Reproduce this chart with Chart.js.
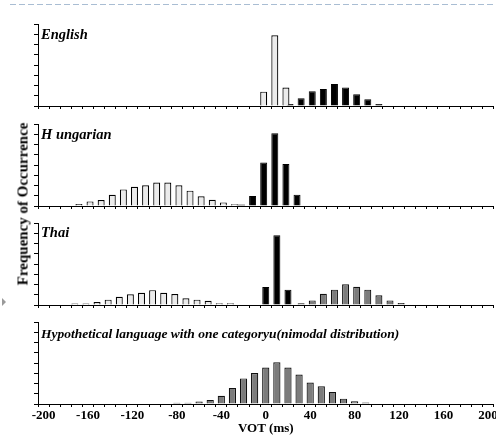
<!DOCTYPE html>
<html><head><meta charset="utf-8">
<script src="https://cdn.jsdelivr.net/npm/chart.js@4.4.1/dist/chart.umd.min.js"></script>
<style>
html,body{margin:0;padding:0;background:#fff;}
body{width:496px;height:442px;position:relative;overflow:hidden;}
canvas{position:absolute;left:0;}
#ytitle{position:absolute;left:23px;top:204px;transform:translate(-50%,-50%) rotate(-90deg);font:bold 15px "Liberation Serif","Times New Roman",serif;white-space:nowrap;color:#000;}
svg{position:absolute;left:0;top:0;}
</style></head><body>
<svg width="496" height="442"><line x1="10" y1="4.5" x2="496" y2="4.5" stroke="#a9bdd3" stroke-width="1" stroke-dasharray="6,3"/><polygon points="2,298 6,302 2,306" fill="#9a9a9a"/></svg>
<canvas id="c1" width="496" height="94" style="top:18px"></canvas>
<canvas id="c2" width="496" height="94" style="top:118px"></canvas>
<canvas id="c3" width="496" height="94" style="top:217px"></canvas>
<canvas id="c4" width="496" height="126" style="top:316px"></canvas>
<div id="ytitle">Frequency of Occurrence</div>
<script>
// VOT bins (ms)
const votBins = [-200,-190,-180,-170,-160,-150,-140,-130,-120,-110,-100,-90,-80,-70,-60,-50,-40,-30,-20,-10,0,10,20,30,40,50,60,70,80,90,100,110,120,130,140,150,160,170,180,190,200];
// tick labels shown on the VOT axis
const votTickLabels = [-200,-160,-120,-80,-40,0,40,80,120,160,200];
const panelNames = ['English','H ungarian','Thai','Hypothetical language with one categoryu(nimodal distribution)'];

// English
const englishLight = [null,null,null,null,null,null,null,null,null,null,null,null,null,null,null,null,null,null,null,null,1.4,6.9,1.8,null,null,null,null,null,null,null,null,null,null,null,null,null,null,null,null,null,null];
const englishDark  = [null,null,null,null,null,null,null,null,null,null,null,null,null,null,null,null,null,null,null,null,null,null,0.2,0.75,1.45,1.65,2.15,1.8,1.15,0.65,0.2,null,null,null,null,null,null,null,null,null,null];
// Hungarian
const hungarianDark  = [null,null,null,null,null,null,null,null,null,null,null,null,null,null,null,null,null,null,0.15,0.98,4.25,7.1,4.1,1.1,null,null,null,null,null,null,null,null,null,null,null,null,null,null,null,null,null];
const hungarianLight = [null,null,null,0.2,0.45,0.58,1.1,1.62,1.88,2.02,2.3,2.3,2.02,1.5,0.95,0.6,0.35,0.18,null,null,null,null,null,null,null,null,null,null,null,null,null,null,null,null,null,null,null,null,null,null,null];
// Thai
const thaiLight = [null,null,null,0.15,0.15,0.3,0.52,0.8,1.05,1.2,1.45,1.2,1.07,0.65,0.52,0.42,0.18,0.18,null,null,null,null,null,null,null,null,null,null,null,null,null,null,null,null,null,null,null,null,null,null,null];
const thaiDark  = [null,null,null,null,null,null,null,null,null,null,null,null,null,null,null,null,null,null,null,null,1.75,6.8,1.5,null,null,null,null,null,null,null,null,null,null,null,null,null,null,null,null,null,null];
const thaiGray  = [null,null,null,null,null,null,null,null,null,null,null,null,null,null,null,null,null,null,null,null,null,null,null,0.16,0.45,1.1,1.5,2.03,1.77,1.5,0.95,0.45,0.2,null,null,null,null,null,null,null,null];
// Hypothetical unimodal
const hypotheticalGray = [null,null,null,null,null,null,null,null,null,null,null,null,0.12,0.12,0.25,0.4,0.8,1.57,2.5,3.03,3.55,4.08,3.55,2.88,2.1,1.72,1.18,0.52,0.28,0.15,null,null,null,null,null,null,null,null,null,null,null];

const LIGHT = {backgroundColor:'#ebebeb', borderColor:'#000000', borderWidth:1.2};
const DARK  = {backgroundColor:'#000000', borderColor:'#000000', borderWidth:1};
const GRAY  = {backgroundColor:'#7c7c7c', borderColor:'#111111', borderWidth:1.2};

const panelLabel = {
  id:'panelLabel',
  afterDraw(chart, args, o){
    const {ctx, chartArea} = chart;
    ctx.save();
    ctx.font = 'italic bold ' + o.size + 'px "Liberation Serif", "Times New Roman", serif';
    ctx.fillStyle = '#000';
    ctx.textBaseline = 'alphabetic';
    ctx.textAlign = 'left';
    ctx.fillText(o.text, chartArea.left + 3, chartArea.top + o.dy);
    ctx.restore();
  }
};

function makePanel(id, name, sets, fit, labelOpts, bottom){
  const datasets = sets.map(s => Object.assign({data: s.data, categoryPercentage: fit.cat, barPercentage: fit.bar}, s.style));
  return new Chart(document.getElementById(id), {
    type:'bar',
    data:{labels: votBins, datasets},
    plugins:[panelLabel],
    options:{
      responsive:false, maintainAspectRatio:false, animation:false, events:[],
      layout:{padding:{top:6,left:0,right:2.5,bottom:0}},
      plugins:{legend:{display:false}, tooltip:{enabled:false}, panelLabel:Object.assign({text:name}, labelOpts)},
      scales:{
        x:{
          type:'category', offset:true,
          grid:{offset:true, drawOnChartArea:false, drawTicks:true, tickLength:3, color:'#000', lineWidth:1},
          border:{display:true, color:'#000', width:1},
          ticks:{display:bottom, autoSkip:false, maxRotation:0, minRotation:0, padding:1, color:'#000',
            font:{family:'"Liberation Serif", "Times New Roman", serif', size:13, weight:'bold'},
            callback:(v,i)=> votTickLabels.includes(votBins[i]) ? String(votBins[i]) : ''},
          title:{display:bottom, text:'VOT (ms)', color:'#000', padding:{top:0,bottom:6},
            font:{family:'"Liberation Serif", "Times New Roman", serif', size:13, weight:'bold'}},
          afterFit:(s)=>{ s.height = bottom ? 38 : 6; s.paddingLeft = 0; s.paddingRight = 0; }
        },
        y:{
          min:0, max:8,
          ticks:{display:false, stepSize:1},
          grid:{drawOnChartArea:false, drawTicks:true, tickLength:4, color:'#000', lineWidth:1},
          border:{display:true, color:'#000', width:1},
          afterFit:(s)=>{ s.width = 38; }
        }
      }
    }
  });
}

const fit2 = {cat:0.74, bar:1.7};
const fit3 = {cat:0.554, bar:3.41};
const fit1 = {cat:1, bar:0.65};

makePanel('c1', panelNames[0], [{data:englishLight, style:LIGHT},{data:englishDark, style:DARK}], fit2, {size:14.5, dy:14.5}, false);
makePanel('c2', panelNames[1], [{data:hungarianDark, style:DARK},{data:hungarianLight, style:LIGHT}], fit2, {size:14.5, dy:14.5}, false);
makePanel('c3', panelNames[2], [{data:thaiLight, style:LIGHT},{data:thaiDark, style:DARK},{data:thaiGray, style:GRAY}], fit3, {size:14.5, dy:13.8}, false);
makePanel('c4', panelNames[3], [{data:hypotheticalGray, style:GRAY}], fit1, {size:13.5, dy:16.2}, true);
</script>
</body></html>
